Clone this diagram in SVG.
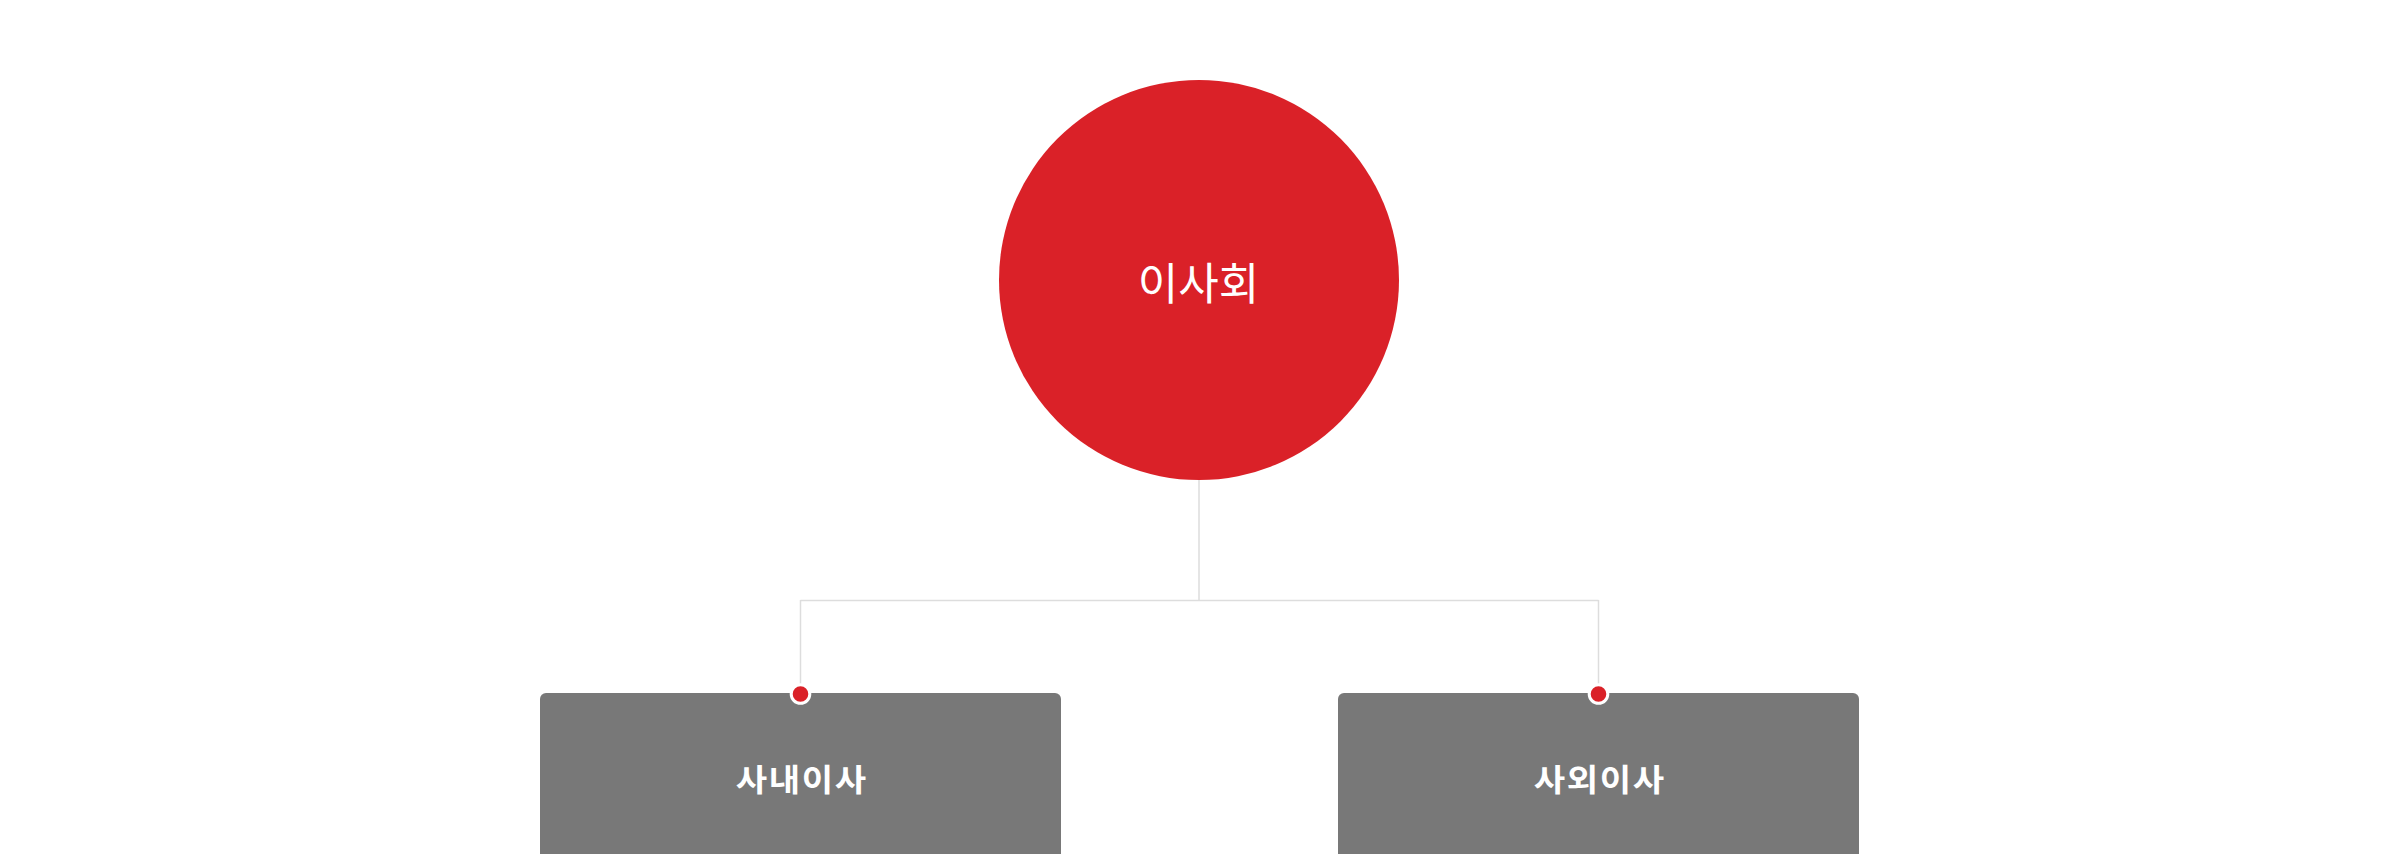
<svg xmlns="http://www.w3.org/2000/svg" width="2400" height="854" viewBox="0 0 2400 854">
<style>
.lbl{font-family:"Noto Sans CJK KR","Noto Sans",sans-serif;fill:#ffffff;text-anchor:middle;dominant-baseline:central}
.sub{font-size:31px;font-weight:bold;letter-spacing:1.5px}
.conn{fill:none;stroke:#dddddd;stroke-width:1.5}
.box{fill:#787878}
.dot{fill:#da2128;stroke:#ffffff;stroke-width:3}
</style>
<rect width="2400" height="854" fill="#ffffff"/>
<g id="connectors">
<path class="conn" d="M1199 480 V600.5 M800.5 600.5 H1598.5 M800.5 600 V693 M1598.5 600 V693"/>
</g>
<g id="board">
<circle cx="1199" cy="280" r="200" fill="#da2128"/>
<text class="lbl" x="1198.5" y="281" font-size="44">이사회</text>
</g>
<g id="inside-director">
<rect class="box" x="540" y="693" width="521" height="170" rx="6"/>
<circle class="dot" cx="800.5" cy="694" r="9.3"/>
<text class="lbl sub" transform="translate(801.8 777.5) scale(1.1 1)">사내이사</text>
</g>
<g id="outside-director">
<rect class="box" x="1338" y="693" width="521" height="170" rx="6"/>
<circle class="dot" cx="1598.5" cy="694" r="9.3"/>
<text class="lbl sub" transform="translate(1599.8 777.5) scale(1.1 1)">사외이사</text>
</g>
</svg>
